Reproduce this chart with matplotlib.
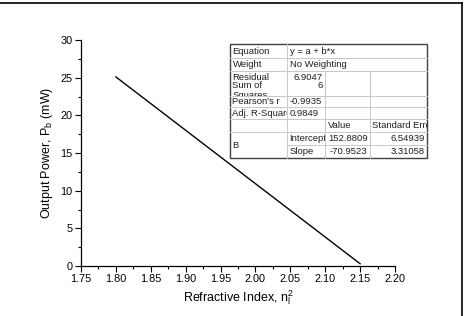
import matplotlib
matplotlib.use("Agg")
import matplotlib.pyplot as plt
from matplotlib.patches import Rectangle
from matplotlib.lines import Line2D

plt.rcParams['font.family'] = ['Liberation Sans', 'DejaVu Sans']

# Data (fit line endpoints)
x_vals = [1.80, 2.15]
y_vals = [25.1, 0.3]

x_ticks = [1.75, 1.80, 1.85, 1.90, 1.95, 2.00, 2.05, 2.10, 2.15, 2.20]
y_ticks = [0, 5, 10, 15, 20, 25, 30]

# Fit table contents
eq_text = "y = a + b*x"
weight_text = "No Weighting"
rss_text = "6.9047\n6"
pearson_text = "-0.9935"
adjr2_text = "0.9849"
intercept_vals = ["152.8809", "6.54939"]
slope_vals = ["-70.9523", "3.31058"]

W, H = 474, 316
fig = plt.figure(figsize=(W / 100, H / 100), dpi=100)

def fx(px):
    return px / W

def fy(py):
    return 1 - py / H

ax = fig.add_axes([fx(81), fy(266), fx(395) - fx(81), fy(40) - fy(266)])
ax.plot(x_vals, y_vals, color='black', lw=1.0)
ax.set_xlim(1.75, 2.20)
ax.set_ylim(0, 30)
ax.set_xticks(x_ticks)
ax.set_xticklabels([f"{v:.2f}" for v in x_ticks])
ax.set_yticks(y_ticks)
ax.set_xticks([1.775 + 0.05 * i for i in range(9)], minor=True)
ax.set_yticks([2.5 + 5 * i for i in range(6)], minor=True)
ax.tick_params(which='major', direction='out', length=4, width=0.8, labelsize=7.8, colors='black', pad=2)
ax.tick_params(which='minor', direction='out', length=2.5, width=0.8)
for s in ['top', 'right']:
    ax.spines[s].set_visible(False)
for s in ['left', 'bottom']:
    ax.spines[s].set_linewidth(0.9)
ax.set_xlabel("Refractive Index, n$_{\\mathregular{l}}^{\\mathregular{2}}$", fontsize=9, labelpad=3)
ax.set_ylabel("Output Power, P$_{\\mathregular{b}}$ (mW)", fontsize=9, labelpad=4)

# Frame lines
fig.add_artist(Line2D([0, fx(462)], [fy(2.5), fy(2.5)], transform=fig.transFigure, color='black', lw=1.2))
fig.add_artist(Line2D([fx(462), fx(462)], [fy(2.5), 0], transform=fig.transFigure, color='black', lw=1.2))

# Table
cols = [230, 287, 325, 370, 427]
rows = [44, 58, 71, 96, 107, 119, 132, 145, 158]
inner = '#c8c8c8'
fs = 6.8

def hline(y, x0, x1, c=inner, lw=0.7):
    fig.add_artist(Line2D([fx(x0), fx(x1)], [fy(y), fy(y)], transform=fig.transFigure, color=c, lw=lw))

def vline(x, y0, y1, c=inner, lw=0.7):
    fig.add_artist(Line2D([fx(x), fx(x)], [fy(y0), fy(y1)], transform=fig.transFigure, color=c, lw=lw))

fig.add_artist(Rectangle((fx(230), fy(158)), fx(427) - fx(230), fy(44) - fy(158),
                         transform=fig.transFigure, facecolor='white', edgecolor='none', zorder=0))
for y in rows[1:-1]:
    if y == 145:
        hline(y, cols[1], cols[4])
    else:
        hline(y, cols[0], cols[4])
vline(cols[1], rows[0], rows[-1])
vline(cols[2], rows[2], rows[-1])
vline(cols[3], rows[2], rows[-1])
fig.add_artist(Rectangle((fx(230), fy(158)), fx(427) - fx(230), fy(44) - fy(158),
                         transform=fig.transFigure, facecolor='none', edgecolor='#404040', lw=1.0))

def cell_text(txt, c0, c1, r0, r1, ha='left', va='center'):
    x0, x1 = cols[c0], cols[c1]
    y0, y1 = rows[r0], rows[r1]
    clip = Rectangle((fx(x0), fy(y1)), fx(x1) - fx(x0), fy(y0) - fy(y1), transform=fig.transFigure,
                     facecolor='none', edgecolor='none')
    fig.add_artist(clip)
    xp = x0 + 2.5 if ha == 'left' else x1 - 2.5
    if va == 'center':
        yp = (y0 + y1) / 2
        t = fig.text(fx(xp), fy(yp), txt, ha=ha, va='center', fontsize=fs, color='#202020')
    else:
        yp = y0 + 1.5
        t = fig.text(fx(xp), fy(yp), txt, ha=ha, va='top', fontsize=fs, color='#202020', linespacing=1.0)
    t.set_clip_path(clip)
    t.set_clip_on(True)

cell_text("Equation", 0, 1, 0, 1)
cell_text(eq_text, 1, 4, 0, 1)
cell_text("Weight", 0, 1, 1, 2)
cell_text(weight_text, 1, 4, 1, 2)
cell_text("Residual\nSum of\nSquares", 0, 1, 2, 3, va='top')
cell_text(rss_text, 1, 2, 2, 3, ha='right', va='top')
cell_text("Pearson's r", 0, 1, 3, 4)
cell_text(pearson_text, 1, 2, 3, 4)
cell_text("Adj. R-Square", 0, 1, 4, 5)
cell_text(adjr2_text, 1, 2, 4, 5)
cell_text("Value", 2, 3, 5, 6)
cell_text("Standard Error", 3, 4, 5, 6)
cell_text("B", 0, 1, 6, 8)
cell_text("Intercept", 1, 2, 6, 7)
cell_text(intercept_vals[0], 2, 3, 6, 7, ha='right')
cell_text(intercept_vals[1], 3, 4, 6, 7, ha='right')
cell_text("Slope", 1, 2, 7, 8)
cell_text(slope_vals[0], 2, 3, 7, 8, ha='right')
cell_text(slope_vals[1], 3, 4, 7, 8, ha='right')

fig.savefig("out.png", dpi=100)
